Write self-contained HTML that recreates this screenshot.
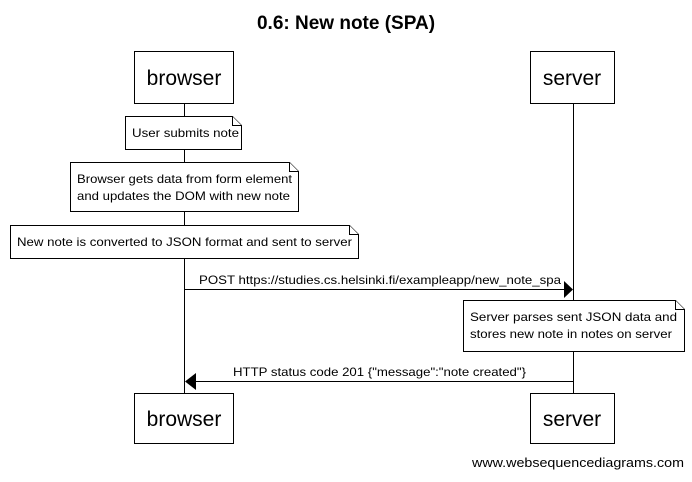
<!DOCTYPE html>
<html><head><style>body{margin:0;background:#fff}</style></head><body>
<svg width="692" height="477" xmlns="http://www.w3.org/2000/svg" font-family="Liberation Sans, sans-serif">
<rect width="692" height="477" fill="#fff"/>
<text x="346" y="29" text-anchor="middle" font-size="19" font-weight="bold">0.6: New note (SPA)</text>
<g stroke="#000" fill="#fff" stroke-width="1">
<line x1="184.5" y1="103" x2="184.5" y2="393"/>
<line x1="573.5" y1="103" x2="573.5" y2="393"/>
<rect x="134.5" y="51.5" width="99" height="52"/>
<rect x="530.5" y="51.5" width="84" height="52"/>
<rect x="134.5" y="393.5" width="99" height="50"/>
<rect x="530.5" y="393.5" width="84" height="50"/>
<path d="M125.5 116.5H232.5L241.5 125.5V149.5H125.5Z"/><path d="M232.5 116.5V125.5H241.5"/>
<path d="M70.5 162.5H289.5L298.5 171.5V211.5H70.5Z"/><path d="M289.5 162.5V171.5H298.5"/>
<path d="M10.5 225.5H349.5L358.5 234.5V258.5H10.5Z"/><path d="M349.5 225.5V234.5H358.5"/>
<path d="M463.5 300.5H675.5L684.5 309.5V351.5H463.5Z"/><path d="M675.5 300.5V309.5H684.5"/>
<line x1="184" y1="289.5" x2="564" y2="289.5"/>
<line x1="196" y1="381.5" x2="573" y2="381.5"/>
</g>
<polygon points="564,281 573,289.5 564,298" fill="#000"/>
<polygon points="196,373 185,381.5 196,390" fill="#000"/>
<g font-size="21" text-anchor="middle">
<text x="184" y="85">browser</text><text x="572" y="85">server</text>
<text x="184" y="426">browser</text><text x="572" y="426">server</text>
</g>
<g font-size="12" xml:space="preserve">
<text x="132" y="137" textLength="107" lengthAdjust="spacingAndGlyphs">User submits note</text>
<text x="77" y="183" textLength="215" lengthAdjust="spacingAndGlyphs">Browser gets data from form element</text>
<text x="77" y="200" textLength="213" lengthAdjust="spacingAndGlyphs">and updates the DOM with new note</text>
<text x="17" y="246" textLength="335" lengthAdjust="spacingAndGlyphs">New note is converted to JSON format and sent to server</text>
<text x="199" y="284" textLength="362" lengthAdjust="spacingAndGlyphs">POST https://studies.cs.helsinki.fi/exampleapp/new_note_spa</text>
<text x="470" y="321" textLength="207" lengthAdjust="spacingAndGlyphs">Server parses  sent JSON data and</text>
<text x="470" y="338" textLength="202" lengthAdjust="spacingAndGlyphs">stores new note in notes on server</text>
<text x="233" y="376" textLength="293" lengthAdjust="spacingAndGlyphs">HTTP status code 201 {"message":"note created"}</text>
<text x="472" y="467" font-size="13" textLength="212" lengthAdjust="spacingAndGlyphs">www.websequencediagrams.com</text>
</g>
</svg>
</body></html>
